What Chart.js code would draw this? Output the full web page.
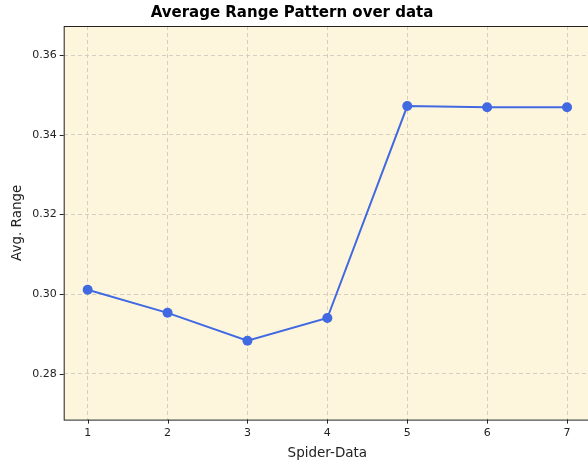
<!DOCTYPE html>
<html>
<head>
<meta charset="utf-8">
<script src="https://cdn.jsdelivr.net/npm/chart.js@4"></script>
<style>
  html, body { margin: 0; padding: 0; overflow: hidden; background: #fff; }
  #wrap { width: 588px; height: 466px; overflow: hidden; }
</style>
</head>
<body>
<div id="wrap"><canvas id="rangeChart" width="596" height="466"></canvas></div>
<script>
// Data for the chart
const spiders = [1, 2, 3, 4, 5, 6, 7];
const avgRange = [0.3011, 0.2953, 0.2883, 0.2940, 0.3472, 0.3469, 0.3469];
const xTicks = [1, 2, 3, 4, 5, 6, 7];
const yTicks = [0.28, 0.30, 0.32, 0.34, 0.36];
const chartTitle = 'Average Range Pattern over data';

// cream plot background, full frame, tick marks and title
const frame = {
    id: 'frame',
    beforeDraw(chart) {
        const { ctx, chartArea: a } = chart;
        ctx.save();
        ctx.fillStyle = '#fdf6dc';
        ctx.fillRect(a.left, a.top, a.right - a.left, a.bottom - a.top);
        ctx.restore();
    },
    afterDraw(chart) {
        const { ctx, chartArea: a, scales } = chart;
        ctx.save();
        ctx.strokeStyle = '#222';
        ctx.lineWidth = 1;
        ctx.strokeRect(a.left + 0.5, a.top + 0.5, a.right - a.left, a.bottom - a.top);
        ctx.beginPath();
        xTicks.forEach(v => {
            const px = Math.round(scales.x.getPixelForValue(v)) + 0.5;
            ctx.moveTo(px, a.bottom);
            ctx.lineTo(px, a.bottom + 4);
        });
        yTicks.forEach(v => {
            const py = Math.round(scales.y.getPixelForValue(v)) + 0.5;
            ctx.moveTo(a.left, py);
            ctx.lineTo(a.left - 4, py);
        });
        ctx.stroke();
        ctx.fillStyle = '#000';
        ctx.font = 'bold 15px "DejaVu Sans"';
        ctx.textAlign = 'center';
        ctx.textBaseline = 'middle';
        ctx.fillText(chartTitle, 292, 13);
        ctx.restore();
    }
};

const font = { family: 'DejaVu Sans', size: 11 };
const titleFont = { family: 'DejaVu Sans', size: 13.5 };

const config = {
    type: 'line',
    data: {
        datasets: [{
            data: spiders.map((x, i) => ({ x: x, y: avgRange[i] })),
            borderColor: '#4169e1',
            backgroundColor: '#4169e1',
            borderWidth: 2,
            pointRadius: 5,
            pointBorderWidth: 0,
            tension: 0
        }]
    },
    options: {
        responsive: false,
        animation: false,
        layout: { padding: { left: 3, right: 0, top: 26, bottom: 2 } },
        plugins: {
            legend: { display: false },
            tooltip: { enabled: false },
            title: { display: false }
        },
        scales: {
            x: {
                type: 'linear',
                min: 0.7,
                max: 7.3,
                afterBuildTicks: s => { s.ticks = xTicks.map(v => ({ value: v })); },
                ticks: { color: '#222', font: font, padding: 3 },
                grid: { color: '#d4cfc2', tickColor: 'rgba(0,0,0,0)', tickLength: 4 },
                border: { display: false, dash: [4, 3] },
                title: { display: true, text: 'Spider-Data', color: '#222', font: titleFont, padding: { top: 3, bottom: 2 } }
            },
            y: {
                min: 0.2685,
                max: 0.3673,
                afterBuildTicks: s => { s.ticks = yTicks.map(v => ({ value: v })); },
                ticks: { color: '#222', font: font, padding: 3, callback: v => v.toFixed(2) },
                grid: { color: '#d4cfc2', tickColor: 'rgba(0,0,0,0)', tickLength: 4 },
                border: { display: false, dash: [4, 3] },
                title: { display: true, text: 'Avg. Range', color: '#222', font: titleFont, padding: { top: 6, bottom: 4 } }
            }
        }
    },
    plugins: [frame]
};

new Chart(document.getElementById('rangeChart').getContext('2d'), config);
</script>
</body>
</html>
